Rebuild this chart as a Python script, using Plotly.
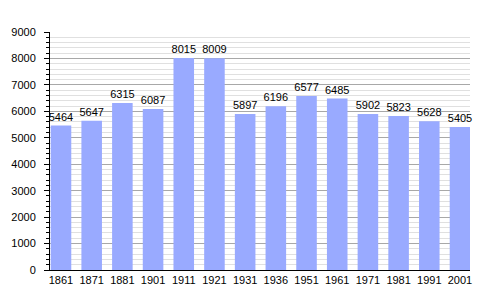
import plotly.graph_objects as go

years = ["1861", "1871", "1881", "1901", "1911", "1921", "1931", "1936", "1951", "1961", "1971", "1981", "1991", "2001"]
population = [5464, 5647, 6315, 6087, 8015, 8009, 5897, 6196, 6577, 6485, 5902, 5823, 5628, 5405]

fig = go.Figure(go.Bar(
    x=years, y=population,
    marker=dict(color="#99aaff", line=dict(width=0)),
    text=[str(v) for v in population], textposition="outside",
    constraintext="none",
    textfont=dict(family="Liberation Sans, Arial", size=11, color="black"),
    cliponaxis=False,
))
fig.update_layout(
    width=500, height=300,
    margin=dict(l=50, r=30, t=32, b=30),
    paper_bgcolor="white", plot_bgcolor="white",
    bargap=0.33, showlegend=False,
    uniformtext=dict(minsize=11, mode="show"),
    font=dict(family="Liberation Sans, Arial", size=11, color="black"),
)
fig.update_xaxes(
    type="category", range=[-0.358, 13.326], showline=True, linecolor="black", linewidth=1,
    ticks="", showgrid=False, tickfont=dict(size=11), automargin=False,
)
fig.update_yaxes(
    range=[0, 9000], dtick=1000, showline=True, linecolor="black", linewidth=1,
    ticks="outside", ticklen=5, tickcolor="black", ticklabelstandoff=6,
    showgrid=True, gridcolor="#a8a8a8", gridwidth=1, zeroline=False, automargin=False,
    minor=dict(dtick=200, showgrid=True, gridcolor="#e0e0e0", ticks="outside", ticklen=3, tickcolor="black"),
    tickfont=dict(size=11),
)
fig.write_html("out.html")
